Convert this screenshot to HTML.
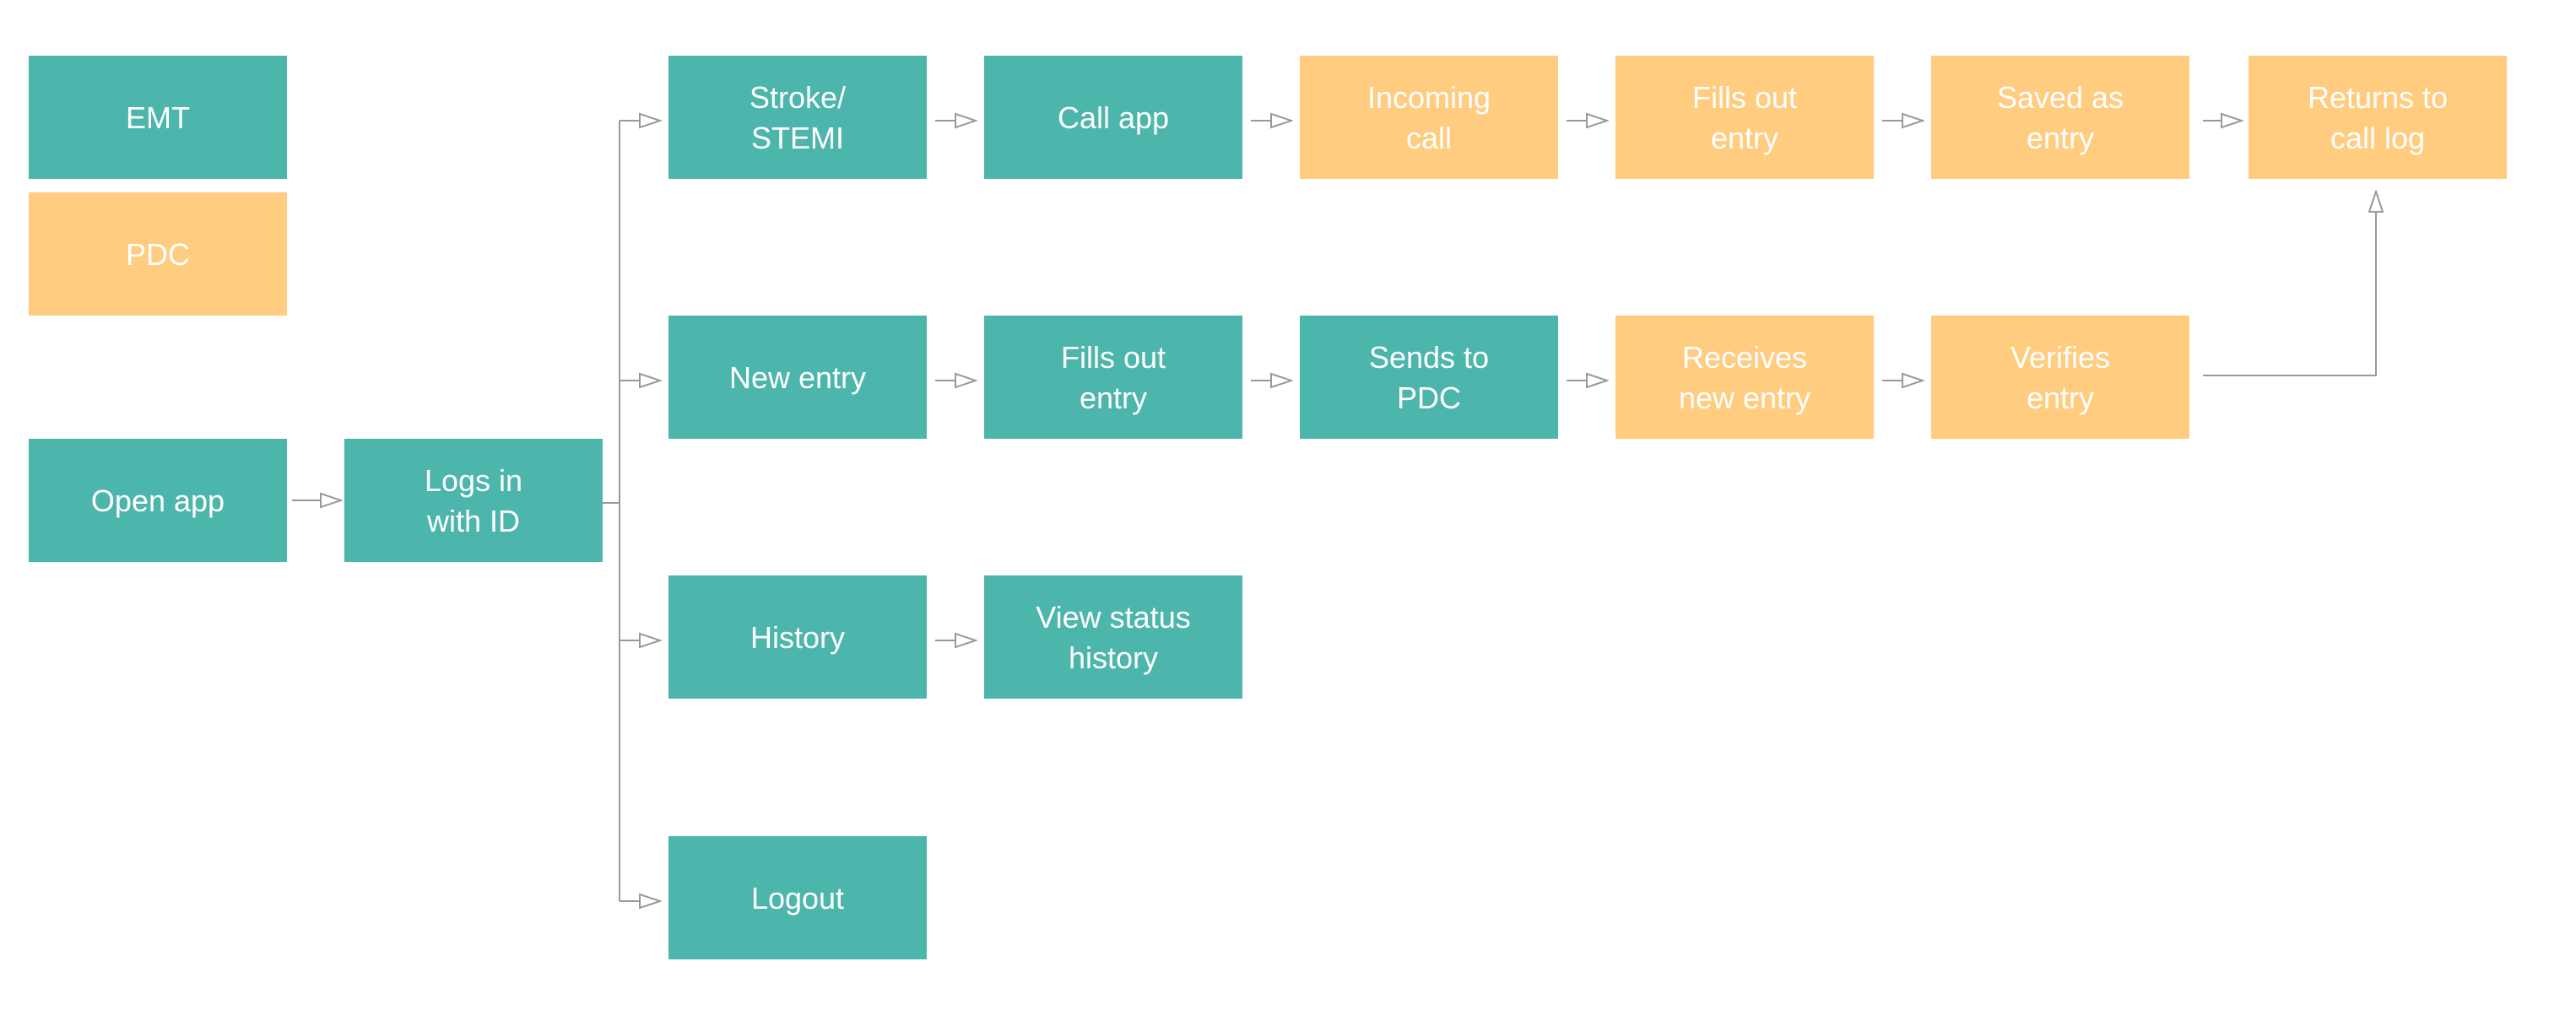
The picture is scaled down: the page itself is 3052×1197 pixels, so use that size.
<!DOCTYPE html>
<html><head><style>
html,body{margin:0;padding:0;background:#fff;}
body{width:3052px;height:1192px;overflow:hidden;}
text{font-family:"Liberation Sans",sans-serif;font-size:36px;fill:#fff;text-anchor:middle;}
</style></head><body>
<svg width="3052" height="1192" xmlns="http://www.w3.org/2000/svg">
<defs>
<marker id="a" markerWidth="28" markerHeight="20" refX="26" refY="10" orient="auto" markerUnits="userSpaceOnUse">
<path d="M2,2 L26,10 L2,18 Z" fill="#fff" stroke="#999" stroke-width="2"/>
</marker>
</defs>
<g fill="#4DB6AC">
<rect x="34" y="66" width="306" height="146"/>
<rect x="34" y="520" width="306" height="146"/>
<rect x="408" y="520" width="306" height="146"/>
<rect x="792" y="66" width="306" height="146"/>
<rect x="792" y="374" width="306" height="146"/>
<rect x="792" y="682" width="306" height="146"/>
<rect x="792" y="991" width="306" height="146"/>
<rect x="1166" y="66" width="306" height="146"/>
<rect x="1166" y="374" width="306" height="146"/>
<rect x="1166" y="682" width="306" height="146"/>
<rect x="1540" y="374" width="306" height="146"/>
</g>
<g fill="#FFCC80">
<rect x="34" y="228" width="306" height="146"/>
<rect x="1540" y="66" width="306" height="146"/>
<rect x="1914" y="66" width="306" height="146"/>
<rect x="2288" y="66" width="306" height="146"/>
<rect x="2664" y="66" width="306" height="146"/>
<rect x="1914" y="374" width="306" height="146"/>
<rect x="2288" y="374" width="306" height="146"/>
</g>
<g stroke="#999" stroke-width="2" fill="none">
<line x1="346" y1="593" x2="404" y2="593" marker-end="url(#a)"/>
<polyline points="714,596 734,596"/>
<line x1="734" y1="143" x2="734" y2="1068"/>
<line x1="734" y1="143" x2="782" y2="143" marker-end="url(#a)"/>
<line x1="734" y1="451" x2="782" y2="451" marker-end="url(#a)"/>
<line x1="734" y1="759" x2="782" y2="759" marker-end="url(#a)"/>
<line x1="734" y1="1068" x2="782" y2="1068" marker-end="url(#a)"/>
<line x1="1108" y1="143" x2="1156" y2="143" marker-end="url(#a)"/>
<line x1="1482" y1="143" x2="1530" y2="143" marker-end="url(#a)"/>
<line x1="1856" y1="143" x2="1904" y2="143" marker-end="url(#a)"/>
<line x1="2230" y1="143" x2="2278" y2="143" marker-end="url(#a)"/>
<line x1="2610" y1="143" x2="2656" y2="143" marker-end="url(#a)"/>
<line x1="1108" y1="451" x2="1156" y2="451" marker-end="url(#a)"/>
<line x1="1482" y1="451" x2="1530" y2="451" marker-end="url(#a)"/>
<line x1="1856" y1="451" x2="1904" y2="451" marker-end="url(#a)"/>
<line x1="2230" y1="451" x2="2278" y2="451" marker-end="url(#a)"/>
<line x1="1108" y1="759" x2="1156" y2="759" marker-end="url(#a)"/>
<polyline points="2610,445 2815,445 2815,227" marker-end="url(#a)"/>
</g>
<text x="187" y="152">EMT</text>
<text x="187" y="314">PDC</text>
<text x="187" y="606">Open app</text>
<text x="561" y="582">Logs in</text><text x="561" y="630">with ID</text>
<text x="945" y="128">Stroke/</text><text x="945" y="176">STEMI</text>
<text x="945" y="460">New entry</text>
<text x="945" y="768">History</text>
<text x="945" y="1077">Logout</text>
<text x="1319" y="152">Call app</text>
<text x="1319" y="436">Fills out</text><text x="1319" y="484">entry</text>
<text x="1319" y="744">View status</text><text x="1319" y="792">history</text>
<text x="1693" y="128">Incoming</text><text x="1693" y="176">call</text>
<text x="1693" y="436">Sends to</text><text x="1693" y="484">PDC</text>
<text x="2067" y="128">Fills out</text><text x="2067" y="176">entry</text>
<text x="2067" y="436">Receives</text><text x="2067" y="484">new entry</text>
<text x="2441" y="128">Saved as</text><text x="2441" y="176">entry</text>
<text x="2441" y="436">Verifies</text><text x="2441" y="484">entry</text>
<text x="2817" y="128">Returns to</text><text x="2817" y="176">call log</text>
</svg>
</body></html>
